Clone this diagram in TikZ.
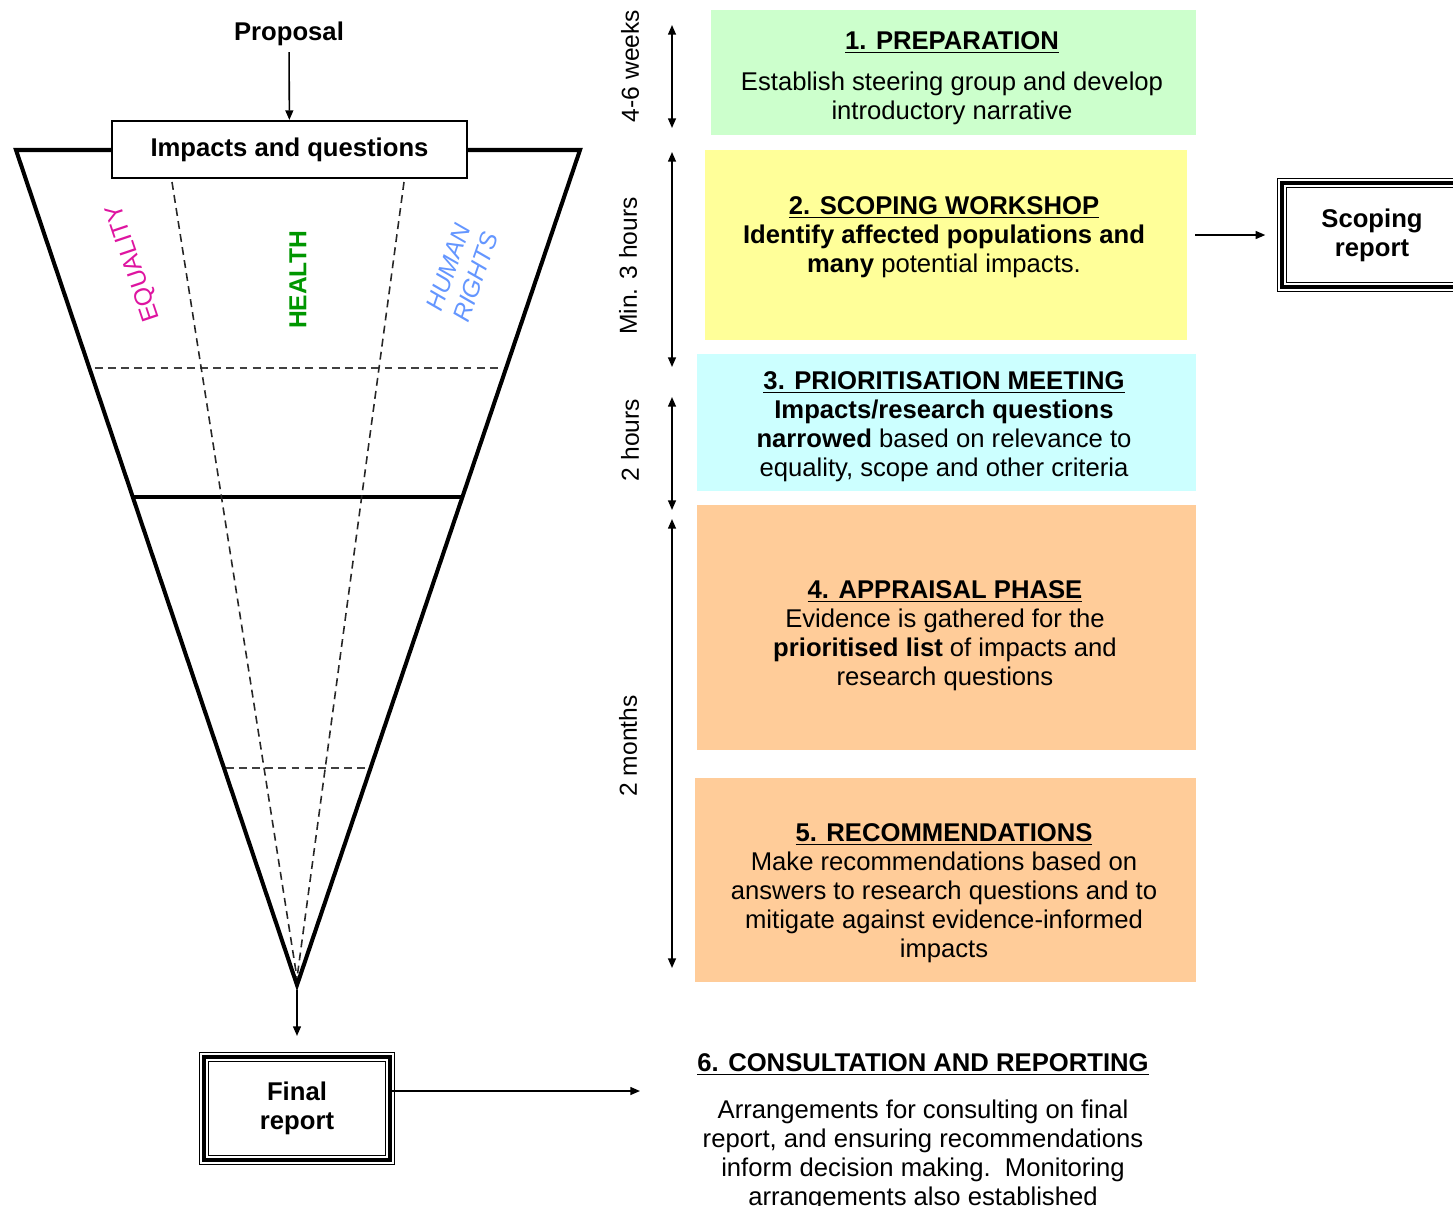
\documentclass[tikz,border=0pt]{standalone}
\usepackage{fontspec}
\setmainfont{Liberation Sans}
\usetikzlibrary{arrows.meta,calc}

\definecolor{prepgreen}{RGB}{204,255,204}
\definecolor{scopeyellow}{RGB}{255,255,153}
\definecolor{priocyan}{RGB}{204,255,255}
\definecolor{approrange}{RGB}{255,204,153}
\definecolor{eqmagenta}{RGB}{222,20,160}
\definecolor{healthgreen}{RGB}{0,150,0}
\definecolor{hrblue}{RGB}{100,150,255}
\newcommand{\diagfont}{\fontsize{14.6}{16.5}\selectfont}
\newcommand{\labelfont}{\fontsize{14}{16.5}\selectfont}

\begin{document}
\begin{tikzpicture}[x=0.02cm,y=-0.02cm,>={Triangle[length=5.5pt,width=4.5pt]},
        every node/.style={font=\diagfont},
        stage node/.style={rectangle,inner sep=0pt},
        stage text/.style={align=center,inner sep=0pt},
        report node/.style={rectangle,inner sep=0pt,align=center,font=\diagfont\bfseries,
            preaction={draw,line width=5.6pt},preaction={draw,white,line width=4.4pt},
            draw,line width=2pt},
        time node/.style={rotate=90,font=\labelfont},
        funnel/.style={line width=2.3pt,line join=miter},
        divider/.style={black!75,line width=0.9pt,dash pattern=on 4.5pt off 3pt},
        link/.style={->,line width=0.9pt}]

        \useasboundingbox (0,0) rectangle (1453,1205);
        \clip (0,0) rectangle (1453,1205);

        % Funnel
        \coordinate (tl) at (16,150);
        \coordinate (tr) at (580,150);
        \coordinate (apex) at (297,985);
        \coordinate (eqtop) at (172,182);
        \coordinate (hrtop) at (404,182);
        \coordinate (meet) at (297,978);

        \draw[funnel] (tl) -- (apex) -- (tr) -- cycle;
        \draw[divider,shorten <=3pt,shorten >=3pt] ($(tl)!0.261!(apex)$) -- ($(tr)!0.261!(apex)$);
        \draw[funnel,line width=1.8pt] ($(tl)!0.4156!(apex)$) -- ($(tr)!0.4156!(apex)$);
        \draw[divider,shorten <=1pt,shorten >=1pt] ($(tl)!0.740!(apex)$) -- ($(tr)!0.740!(apex)$);
        \draw[divider,black!85] (eqtop) -- (meet);
        \draw[divider,black!85] (hrtop) -- (meet);

        \node[text=eqmagenta,font=\labelfont,rotate=108.6] (equality) at (134,263) {EQUALITY};
        \node[text=healthgreen,font=\labelfont\bfseries,rotate=90] (health) at (298,280) {HEALTH};
        \node[text=hrblue,font=\labelfont\itshape,rotate=71,align=center] (rights) at (462,272) {HUMAN\\RIGHTS};

        % Define vertices
        \node[font=\diagfont\bfseries] (proposal) at (289,34) {Proposal};
        \node[draw,line width=1.2pt,fill=white,inner sep=0pt,minimum width=7.1cm,minimum height=1.14cm,
            font=\diagfont\bfseries] (impacts) at (289.5,149.5) {Impacts and questions};
        \node[report node,minimum width=3.72cm,minimum height=2.06cm] (final) at (297,1108.5) {Final\\report};
        \node[report node,minimum width=3.6cm,minimum height=2.08cm] (scoprep) at (1372,235) {Scoping\\report};

        \node[stage node,fill=prepgreen,minimum width=9.7cm,minimum height=2.5cm] (prep) at (953.5,72.5) {};
        \node[stage node,fill=scopeyellow,minimum width=9.64cm,minimum height=3.8cm] (scoping) at (946,245) {};
        \node[stage node,fill=priocyan,minimum width=9.98cm,minimum height=2.74cm] (prio) at (946.5,422.5) {};
        \node[stage node,fill=approrange,minimum width=9.98cm,minimum height=4.9cm] (appraisal) at (946.5,627.5) {};
        \node[stage node,fill=approrange,minimum width=10.02cm,minimum height=4.08cm] (recomm) at (945.5,880) {};

        \node[stage text] (preptext) at (952,78)
            {\underline{\textbf{1. PREPARATION}}\\[7pt]
             Establish steering group and develop\\introductory narrative};
        \node[stage text] (scopingtext) at (944,237.5)
            {\underline{\textbf{2. SCOPING WORKSHOP}}\\
             \textbf{Identify affected populations and}\\\textbf{many} potential impacts.};
        \node[stage text] (priotext) at (944,427)
            {\underline{\textbf{3. PRIORITISATION MEETING}}\\
             \textbf{Impacts/research questions}\\\textbf{narrowed} based on relevance to\\
             equality, scope and other criteria};
        \node[stage text] (appraisaltext) at (945,635.5)
            {\underline{\textbf{4. APPRAISAL PHASE}}\\
             Evidence is gathered for the\\\textbf{prioritised list} of impacts and\\research questions};
        \node[stage text] (recommtext) at (944,893.5)
            {\underline{\textbf{5. RECOMMENDATIONS}}\\
             Make recommendations based on\\answers to research questions and to\\
             mitigate against evidence-informed\\impacts};
        \node[stage text] (consult) at (923,1132)
            {\underline{\textbf{6. CONSULTATION AND REPORTING}}\\[10pt]
             Arrangements for consulting on final\\report, and ensuring recommendations\\
             inform decision making.\ \ Monitoring\\arrangements also established};

        % Time spans
        \coordinate (t1a) at (672,25);  \coordinate (t1b) at (672,128);
        \coordinate (t2a) at (672,152); \coordinate (t2b) at (672,367);
        \coordinate (t3a) at (672,397); \coordinate (t3b) at (672,510);
        \coordinate (t4a) at (672,519); \coordinate (t4b) at (672,968);
        \node[time node] (weeks) at (630,66) {4-6 weeks};
        \node[time node] (hours3) at (628,266) {Min. 3 hours};
        \node[time node] (hours2) at (630,440) {2 hours};
        \node[time node] (months) at (628,746) {2 months};
        \coordinate (consin) at (640,1091);

        % Draw edges
        \path[link]
            (proposal) edge (impacts)
            (apex) edge[shorten <=2.8pt,shorten >=11pt] (final.north)
            (final.east |- consin) edge (consin)
            (scoping.east |- scoprep.west) edge[shorten <=4.5pt,shorten >=8.5pt] (scoprep.west);
        \path[link,<->]
            (t1a) edge (t1b)
            (t2a) edge (t2b)
            (t3a) edge (t3b)
            (t4a) edge (t4b);

\end{tikzpicture}
\end{document}
